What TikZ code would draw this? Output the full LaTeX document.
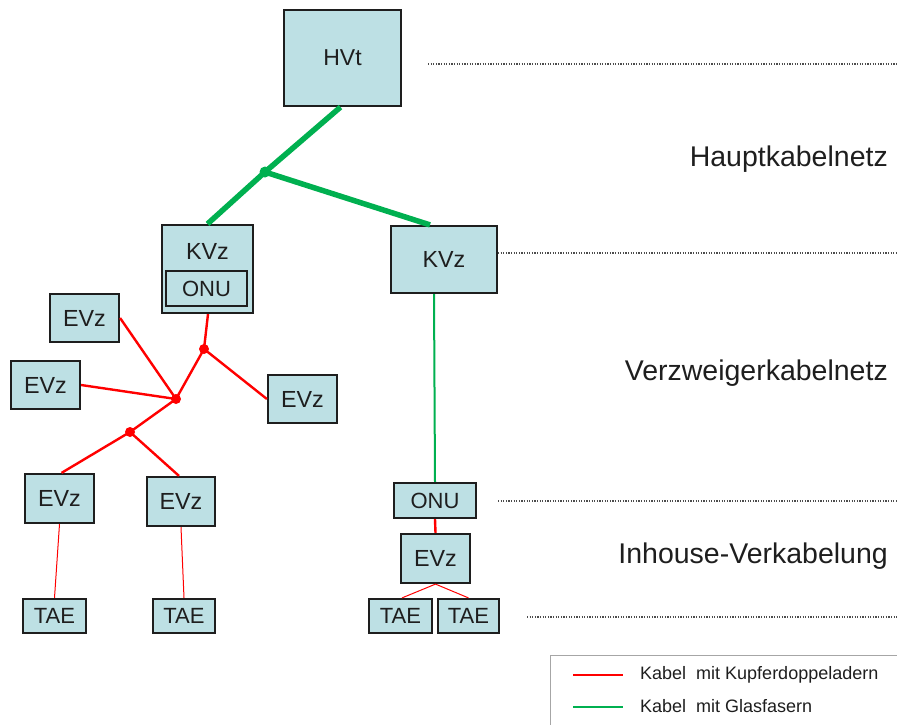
\documentclass[tikz,border=0pt]{standalone}
\usepackage{fontspec}
\setmainfont{Liberation Sans}
\usetikzlibrary{calc}
\definecolor{boxfill}{RGB}{189,224,228}
\definecolor{cablered}{RGB}{255,0,0}
\definecolor{cablegreen}{RGB}{0,176,80}
\definecolor{inkgray}{RGB}{30,30,30}
\tikzset{
  unitbox/.style={draw=inkgray, line width=2.2pt, fill=boxfill, inner sep=0pt,
    text=inkgray, font=\fontsize{23.3}{26}\selectfont},
  smalllabel/.style={font=\fontsize{22}{25}\selectfont},
  fibremain/.style={cablegreen, line width=5.5pt},
  fibrethin/.style={cablegreen, line width=2pt},
  copper/.style={cablered, line width=2.4pt},
  copperthin/.style={cablered, line width=1pt},
  levelline/.style={gray!60!black, line width=1.6pt, dash pattern=on 1.2pt off 1.4pt},
  levellabel/.style={anchor=east, text=inkgray, font=\fontsize{28.5}{32}\selectfont, inner sep=0pt},
  legendtext/.style={anchor=west, text=inkgray, font=\fontsize{18}{21}\selectfont, inner sep=0pt},
}
\begin{document}
\begin{tikzpicture}[x=1pt, y=-1pt]
\useasboundingbox (0,0) rectangle (897,724);

% level separators
\draw[levelline] (428,64) -- (897,64);
\draw[levelline] (498,253) -- (897,253);
\draw[levelline] (498,501) -- (897,501);
\draw[levelline] (527,617) -- (897,617);

% level names
\node[levellabel] (lvlA) at (888,159) {Hauptkabelnetz};
\node[levellabel] (lvlB) at (888,373) {Verzweigerkabelnetz};
\node[levellabel] (lvlC) at (888,556) {Inhouse-Verkabelung};

% distribution units
\node[unitbox, minimum width=117pt, minimum height=96pt, font=\fontsize{23}{26}\selectfont] (hvt) at (342.5,58) {HVt};
\node[unitbox, minimum width=91pt, minimum height=88pt] (kvzL) at (207.5,269) {};
\node[text=inkgray, font=\fontsize{23.3}{26}\selectfont, inner sep=0pt] (kvzLtext) at (207.5,251) {KVz};
\node[unitbox, smalllabel, minimum width=81pt, minimum height=35pt] (onuL) at (206.5,288.5) {ONU};
\node[unitbox, minimum width=106pt, minimum height=67pt] (kvzR) at (444,259.5) {KVz};

\node[unitbox, minimum width=69pt, minimum height=48pt] (evzA) at (84.5,318) {EVz};
\node[unitbox, minimum width=69pt, minimum height=48pt] (evzB) at (45.5,385) {EVz};
\node[unitbox, minimum width=69pt, minimum height=48pt] (evzC) at (302.5,399) {EVz};
\node[unitbox, minimum width=69pt, minimum height=49pt] (evzD) at (59.5,498.5) {EVz};
\node[unitbox, minimum width=68pt, minimum height=49pt] (evzE) at (181,501.5) {EVz};
\node[unitbox, smalllabel, minimum width=63pt, minimum height=34pt] (taeA) at (54.5,616) {TAE};
\node[unitbox, smalllabel, minimum width=62pt, minimum height=34pt] (taeB) at (184,616) {TAE};

\node[unitbox, smalllabel, minimum width=82pt, minimum height=35pt] (onuR) at (435,500.5) {ONU};
\node[unitbox, minimum width=69pt, minimum height=49pt] (evzR) at (435.5,558.5) {EVz};
\node[unitbox, smalllabel, minimum width=63pt, minimum height=34pt] (taeC) at (400.5,616) {TAE};
\node[unitbox, smalllabel, minimum width=61pt, minimum height=34pt] (taeD) at (468.5,616) {TAE};

% branch points
\coordinate (gj) at (265,172);
\coordinate (rj1) at (204,349);
\coordinate (rj2) at (176,399);
\coordinate (rj3) at (130,432);

% fibre cables
\draw[fibremain] ([xshift=-2pt]hvt.south) -- (gj);
\draw[fibremain] (gj) -- (kvzL.north);
\draw[fibremain] (gj) -- ([xshift=-14pt]kvzR.north);
\draw[fibrethin] ([xshift=-10pt]kvzR.south) -- (onuR.north);
\fill[cablegreen] (gj) circle (5.5pt);

% copper cables
\draw[copper] ([xshift=0.5pt]kvzL.south) -- (rj1);
\draw[copper] (rj1) -- (evzC.west);
\draw[copper] (rj1) -- (rj2);
\draw[copper] (rj2) -- (evzA.east);
\draw[copper] (rj2) -- (evzB.east);
\draw[copper] (rj2) -- (rj3);
\draw[copper] (rj3) -- ([xshift=2pt]evzD.north);
\draw[copper] (rj3) -- ([xshift=-2pt]evzE.north);
\draw[copperthin] (evzD.south) -- (taeA.north);
\draw[copperthin] (evzE.south) -- (taeB.north);
\draw[copper] (onuR.south) -- (evzR.north);
\draw[copperthin] (evzR.south) -- ([xshift=1.5pt]taeC.north);
\draw[copperthin] (evzR.south) -- (taeD.north);
\foreach \j in {rj1,rj2,rj3} \fill[cablered] (\j) circle (5pt);

% legend
\draw[gray!70, line width=1pt] (550,731) -- (550,655) -- (900,655);
\draw[cablered, line width=2.6pt] (573,675) -- (623,675);
\draw[cablegreen, line width=2.6pt] (573,707) -- (623,707);
\node[legendtext] (legA) at (640,675) {Kabel\hspace{10pt}mit Kupferdoppeladern};
\node[legendtext] (legB) at (640,706) {Kabel\hspace{10pt}mit Glasfasern};
\end{tikzpicture}
\end{document}
